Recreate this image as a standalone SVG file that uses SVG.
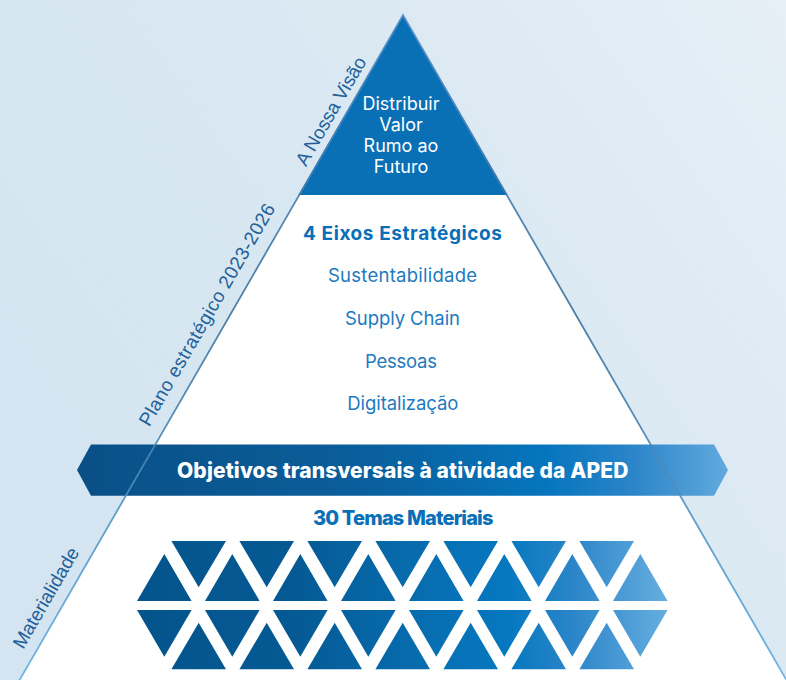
<svg xmlns="http://www.w3.org/2000/svg" width="786" height="680" viewBox="0 0 786 680">
  <defs>
    <linearGradient id="bg" x1="0" y1="0.6" x2="1" y2="0">
      <stop offset="0" stop-color="#d4e5f1"/>
      <stop offset="0.5" stop-color="#d9e8f2"/>
      <stop offset="1" stop-color="#e6eff6"/>
    </linearGradient>
    <linearGradient id="edge" gradientUnits="userSpaceOnUse" x1="0" y1="15" x2="0" y2="680">
      <stop offset="0" stop-color="#5290c8"/>
      <stop offset="0.45" stop-color="#3b6f9a"/>
      <stop offset="1" stop-color="#62ade2"/>
    </linearGradient>
    <linearGradient id="band" gradientUnits="userSpaceOnUse" x1="77" y1="0" x2="728" y2="0">
      <stop offset="0" stop-color="#0a4f86"/>
      <stop offset="0.45" stop-color="#0a5f9c"/>
      <stop offset="0.72" stop-color="#0575bd"/>
      <stop offset="0.85" stop-color="#2a84c8"/>
      <stop offset="1" stop-color="#62aade"/>
    </linearGradient>
    <linearGradient id="tri" gradientUnits="userSpaceOnUse" x1="137" y1="0" x2="668" y2="0">
      <stop offset="0" stop-color="#04548c"/>
      <stop offset="0.3" stop-color="#055a94"/>
      <stop offset="0.55" stop-color="#076eb1"/>
      <stop offset="0.7" stop-color="#0578c0"/>
      <stop offset="0.82" stop-color="#2b85c8"/>
      <stop offset="1" stop-color="#66aee0"/>
    </linearGradient>
    <style>
      .sans { font-family: Inter, "Liberation Sans", Arial, sans-serif; }
      .vis { font-size: 18px; fill: #ffffff; text-anchor: middle; }
      .head { font-size: 19px; font-weight: 700; fill: #0a6fb6; text-anchor: middle; }
      .item { font-size: 18.5px; fill: #1d7ac0; text-anchor: middle; }
      .band { font-size: 21px; font-weight: 800; fill: #ffffff; text-anchor: middle; letter-spacing: -0.4px; }
      .mat { font-size: 20px; font-weight: 800; fill: #0a6fb6; text-anchor: middle; letter-spacing: -0.4px; }
      .side { font-family: "Liberation Sans", Arial, sans-serif; font-size: 19px; fill: #24609a; text-anchor: middle; }
      .t { fill: url(#tri); }
    </style>
  </defs>

  <rect id="background" x="0" y="0" width="786" height="680" fill="url(#bg)"/>

  <g id="materialidade-base">
    <polygon points="298.5,195 507.5,195 787,680 19,680" fill="#ffffff"/>
  </g>

  <g id="a-nossa-visao">
    <polygon points="403,15 507.5,195 298.5,195" fill="#0a70b6"/>
    <text class="sans vis" x="401" y="110">Distribuir</text>
    <text class="sans vis" x="401" y="131">Valor</text>
    <text class="sans vis" x="401" y="152">Rumo ao</text>
    <text class="sans vis" x="401" y="173">Futuro</text>
  </g>

  <g id="plano-estrategico">
    <text class="sans head" x="402.5" y="240" textLength="199">4 Eixos Estratégicos</text>
    <text class="sans item" x="402.5" y="282" textLength="149">Sustentabilidade</text>
    <text class="sans item" x="402.5" y="325" textLength="115">Supply Chain</text>
    <text class="sans item" x="401" y="368" textLength="72">Pessoas</text>
    <text class="sans item" x="402.8" y="410" textLength="111">Digitalização</text>
  </g>

  <g id="objetivos-transversais">
    <polygon points="77,470 91,444.5 714,444.5 728,470 714,495.7 91,495.7" fill="url(#band)"/>
    <text class="sans band" x="402.5" y="477.5" textLength="451">Objetivos transversais à atividade da APED</text>
  </g>

  <g id="temas-materiais">
    <text class="sans mat" x="403" y="525" textLength="180">30 Temas Materiais</text>
    <g id="triangulos">
      <polygon class="t" points="164.3,554 191.6,601 137,601"/>
      <polygon class="t" points="232.3,554 259.6,601 205,601"/>
      <polygon class="t" points="300.3,554 327.6,601 273,601"/>
      <polygon class="t" points="368.3,554 395.6,601 341,601"/>
      <polygon class="t" points="436.3,554 463.6,601 409,601"/>
      <polygon class="t" points="504.3,554 531.6,601 477,601"/>
      <polygon class="t" points="572.3,554 599.6,601 545,601"/>
      <polygon class="t" points="640.3,554 667.6,601 613,601"/>

      <polygon class="t" points="171.4,541 226,541 198.7,587.3"/>
      <polygon class="t" points="239.4,541 294,541 266.7,587.3"/>
      <polygon class="t" points="307.4,541 362,541 334.7,587.3"/>
      <polygon class="t" points="375.4,541 430,541 402.7,587.3"/>
      <polygon class="t" points="443.4,541 498,541 470.7,587.3"/>
      <polygon class="t" points="511.4,541 566,541 538.7,587.3"/>
      <polygon class="t" points="579.4,541 634,541 606.7,587.3"/>

      <polygon class="t" points="137,610 191.6,610 164.3,656.7"/>
      <polygon class="t" points="205,610 259.6,610 232.3,656.7"/>
      <polygon class="t" points="273,610 327.6,610 300.3,656.7"/>
      <polygon class="t" points="341,610 395.6,610 368.3,656.7"/>
      <polygon class="t" points="409,610 463.6,610 436.3,656.7"/>
      <polygon class="t" points="477,610 531.6,610 504.3,656.7"/>
      <polygon class="t" points="545,610 599.6,610 572.3,656.7"/>
      <polygon class="t" points="613,610 667.6,610 640.3,656.7"/>

      <polygon class="t" points="198.7,622.7 226,669.3 171.4,669.3"/>
      <polygon class="t" points="266.7,622.7 294,669.3 239.4,669.3"/>
      <polygon class="t" points="334.7,622.7 362,669.3 307.4,669.3"/>
      <polygon class="t" points="402.7,622.7 430,669.3 375.4,669.3"/>
      <polygon class="t" points="470.7,622.7 498,669.3 443.4,669.3"/>
      <polygon class="t" points="538.7,622.7 566,669.3 511.4,669.3"/>
      <polygon class="t" points="606.7,622.7 634,669.3 579.4,669.3"/>
    </g>
  </g>

  <g id="contorno">
    <polyline points="19,681 403,15 787,681" fill="none" stroke="url(#edge)" stroke-width="1.8" stroke-opacity="0.9"/>
  </g>

  <g id="rotulos">
    <text class="side" transform="translate(336.5,114.3) rotate(-60)" textLength="122">A Nossa Visão</text>
    <text class="side" transform="translate(212.5,318) rotate(-60)" textLength="253">Plano estratégico 2023-2026</text>
    <text class="side" transform="translate(51.5,601) rotate(-60)" textLength="113">Materialidade</text>
  </g>
</svg>
